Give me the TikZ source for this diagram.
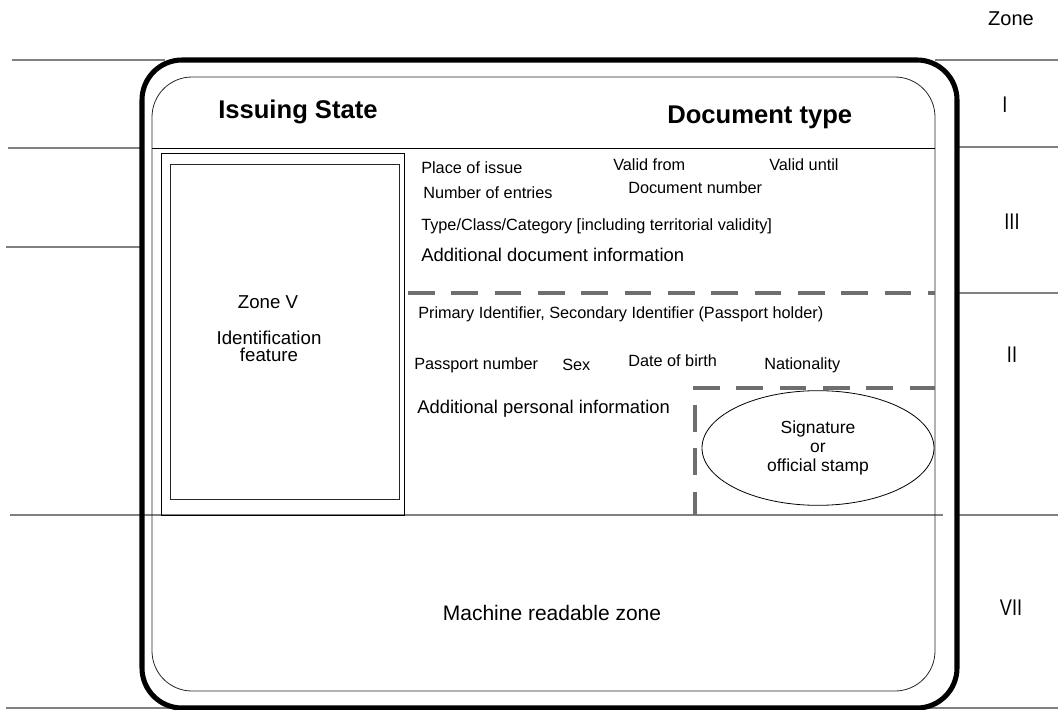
\documentclass[tikz,border=0pt]{standalone}
\usepackage{fontspec}
\setmainfont{Liberation Sans}
\usepackage{graphicx}
\usepackage{tikz}
\usetikzlibrary{positioning,shapes.geometric}
\definecolor{zonegray}{HTML}{808080}
\definecolor{dashgray}{HTML}{6E6E6E}
\begin{document}
\begin{tikzpicture}[x=0.75pt, y=-0.75pt,
  card/.style={line width=3.8pt, rounded corners=30pt},
  inner/.style={line width=0.6pt, draw=black!85, rounded corners=30pt},
  zline/.style={draw=zonegray, line width=1.1pt},
  dsh/.style={draw=dashgray, line width=3pt, dash pattern=on 20pt off 12.5pt},
  lbl/.style={inner sep=0pt, anchor=base west, font=\fontsize{12.2}{14}\selectfont},
  lblb/.style={inner sep=0pt, anchor=base west, font=\fontsize{13.8}{16}\selectfont},
  ttl/.style={inner sep=0pt, anchor=base west, font=\bfseries\fontsize{19.2}{22}\selectfont},
  zn/.style={inner sep=0pt, font=\fontsize{17}{20}\selectfont}]
\useasboundingbox (0,0) rectangle (1058,710);
% zone rulers
\draw[zline] (12,60) -- (165,60);
\draw[zline] (935,60) -- (1058,60);
\draw[zline] (8,148) -- (142,148);
\draw[zline] (957,147) -- (1058,147);
\draw[zline] (6,247) -- (142,247);
\draw[zline] (957,293) -- (1058,293);
\draw[zline] (10,515) -- (943,515);
\draw[zline] (957,515) -- (1058,515);
\draw[zline] (6,708) -- (1058,708);
% the card
\draw[card] (142,60) rectangle (957,708);
\draw[inner] (152,77) rectangle (935,691);
\draw[line width=0.6pt] (152,148) -- (935,148);
% zone V
\draw[line width=0.6pt] (161,153) rectangle (404,515);
\draw[line width=0.6pt, draw=black!85] (170,164) rectangle (399,499);
\node[inner sep=0pt, font=\fontsize{14}{16}\selectfont] (zonev) at (268,302) {Zone V};
\node[inner sep=0pt, align=center, font=\fontsize{14}{12.75}\selectfont] (idfeat) at (269,346) {Identification\\feature};
% zone I
\node[ttl] (issuing) at (218,119) {Issuing State};
\node[ttl] (doctype) at (667,123) {Document type};
% zone III
\node[lbl] (place) at (421,173) {Place of issue};
\node[lbl] (validfrom) at (613,171) {Valid from};
\node[lbl] (validuntil) at (769,171) {Valid until};
\node[lbl] (entries) at (423,199) {Number of entries};
\node[lbl] (docnum) at (628,194) {Document number};
\node[lbl] (typeclass) at (421,230) {Type/Class/Category [including territorial validity]};
\node[lblb] (adddoc) at (421,261) {Additional document information};
\draw[dsh] (408,293) -- (935,293);
% zone II
\node[lbl] (primary) at (418,318) {Primary Identifier, Secondary Identifier (Passport holder)};
\node[lbl] (passno) at (414,369) {Passport number};
\node[lbl] (sex) at (562,370) {Sex};
\node[lbl] (dob) at (628,366) {Date of birth};
\node[lbl] (nation) at (764,369) {Nationality};
\node[lblb] (addpers) at (417,413) {Additional personal information};
\draw[dsh] (693,388) -- (935,388);
\draw[dsh] (695,405) -- (695,515);
\node[draw, ellipse, line width=0.6pt, inner sep=0pt, minimum width=174pt, minimum height=86pt,
  align=center, font=\fontsize{13.1}{14.6}\selectfont] (stamp) at (818,448) {Signature\\or\\official stamp};
% zone VII
\node[inner sep=0pt, anchor=base, font=\fontsize{15.75}{18}\selectfont] (mrz) at (552,620) {Machine readable zone};
% zone labels
\node[inner sep=0pt, anchor=base, font=\fontsize{15}{18}\selectfont] (zone) at (1011,26) {Zone};
\node[zn] (zI) at (1005,105) {\scalebox{0.8}[1]{I}};
\node[zn] (zIII) at (1012,222) {\scalebox{0.8}[1]{III}};
\node[zn] (zII) at (1012,355) {\scalebox{0.8}[1]{II}};
\node[zn] (zVII) at (1011,608) {\scalebox{0.8}[1]{VII}};
\end{tikzpicture}
\end{document}
